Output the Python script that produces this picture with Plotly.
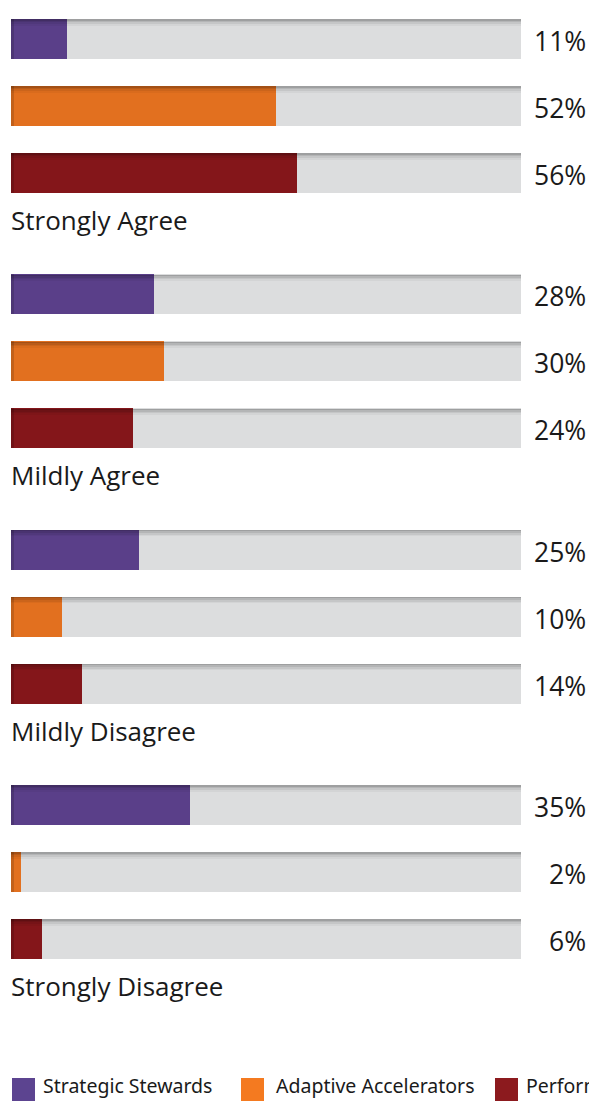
import plotly.graph_objects as go

# ---------------- data ----------------
categories = ["Strongly Agree", "Mildly Agree", "Mildly Disagree", "Strongly Disagree"]
series_names = ["Strategic Stewards", "Adaptive Accelerators", "Performance Drivers"]
strategic_stewards = [11, 28, 25, 35]
adaptive_accelerators = [52, 30, 10, 2]
performance_drivers = [56, 24, 14, 6]
tick_suffix = "%"

# ---------------- style / layout ----------------
W, H = 589, 1101
ML, MR = 11, 0
BAR_PX = 510                      # pixel length of 100 %
bar_colors = ["#5A3F89", "#E2701F", "#84161A"]
legend_colors = ["#5C4490", "#F47A20", "#8C1A1E"]
track_color = "#DCDDDE"
FIRST_ROW = 39
ROW_STEP = 67
GROUP_STEP = 255.33
LABEL_OFFSET = 47
BAR_THICK = 40

x_max = (W - ML - MR) / BAR_PX * 100.0


def px_to_x(px):
    return (px - ML) / BAR_PX * 100.0


values = [strategic_stewards, adaptive_accelerators, performance_drivers]

ys_all = []
fig = go.Figure()

# positions
pos = {}
for g in range(len(categories)):
    for s in range(len(series_names)):
        pos[(g, s)] = FIRST_ROW + g * GROUP_STEP + s * ROW_STEP
        ys_all.append(pos[(g, s)])

# background tracks
fig.add_trace(go.Bar(
    x=[100] * len(ys_all), y=ys_all, orientation="h", width=BAR_THICK,
    marker=dict(color=track_color, line=dict(width=0)), showlegend=False, hoverinfo="skip"))

# series bars
for s, name in enumerate(series_names):
    ys = [pos[(g, s)] for g in range(len(categories))]
    fig.add_trace(go.Bar(
        x=values[s], y=ys, orientation="h", width=BAR_THICK, name=name,
        marker=dict(color=bar_colors[s], line=dict(width=0)), showlegend=False,
        hoverinfo="skip"))

# left-edge shading on coloured bars
fig.add_trace(go.Bar(
    x=[px_to_x(ML + 3)] * len(ys_all), y=ys_all, orientation="h", width=BAR_THICK,
    marker=dict(color="rgba(0,0,0,0.14)", line=dict(width=0)), showlegend=False, hoverinfo="skip"))

# top shadow gradient (thin overlay bands)
for k, a in enumerate([0.28, 0.18, 0.10, 0.04]):
    ys = [y - BAR_THICK / 2 + 1 + 1.6 * k for y in ys_all]
    fig.add_trace(go.Bar(
        x=[100] * len(ys), y=ys, orientation="h", width=1.6,
        marker=dict(color=f"rgba(0,0,0,{a})", line=dict(width=0)),
        showlegend=False, hoverinfo="skip"))

annotations = []
# percentage labels
for g in range(len(categories)):
    for s in range(len(series_names)):
        annotations.append(dict(
            x=1, xref="paper", y=pos[(g, s)] + 2, yref="y",
            text=f"{values[s][g]}{tick_suffix}", showarrow=False,
            xanchor="right", yanchor="middle", xshift=-1,
            font=dict(family="Open Sans", size=26.5, color="#1a1a1a")))
    # category labels
    annotations.append(dict(
        x=0, xref="paper", y=pos[(g, len(series_names) - 1)] + LABEL_OFFSET, yref="y",
        text=categories[g], showarrow=False, xanchor="left", yanchor="middle", xshift=-2,
        font=dict(family="Open Sans", size=26, color="#1a1a1a")))

# legend (swatches + texts)
legend_swatch_px = [12, 241, 495]
legend_text_px = [41, 274, 524]
shapes = []
for i, name in enumerate(series_names):
    shapes.append(dict(
        type="rect", xref="x", yref="y",
        x0=px_to_x(legend_swatch_px[i]), x1=px_to_x(legend_swatch_px[i] + 23),
        y0=1078, y1=1101, fillcolor=legend_colors[i], line=dict(width=0), layer="above"))
    annotations.append(dict(
        x=px_to_x(legend_text_px[i]), xref="x", y=H, yref="y",
        text=name, showarrow=False, xanchor="left", yanchor="bottom",
        font=dict(family="Noto Sans", size=19.5, color="#1a1a1a")))

fig.update_layout(
    width=W, height=H,
    margin=dict(l=ML, r=MR, t=0, b=0, autoexpand=False),
    paper_bgcolor="white", plot_bgcolor="white",
    barmode="overlay", bargap=0,
    xaxis=dict(range=[0, x_max], visible=False, fixedrange=True),
    yaxis=dict(range=[H, 0], visible=False, fixedrange=True),
    annotations=annotations, shapes=shapes,
    showlegend=False, hovermode=False,
)

fig.write_html("out.html", config={"displayModeBar": False})
